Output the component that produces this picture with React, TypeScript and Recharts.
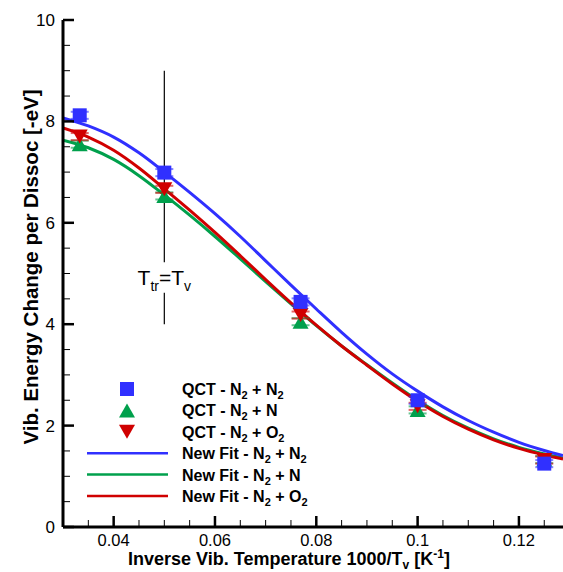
import React from 'react';
import {
  ComposedChart, Scatter, Line, XAxis, YAxis, ErrorBar,
  ReferenceLine, ReferenceDot, Customized
} from 'recharts';

// QCT data points (x = 1000/Tv)
const qctX = [0.0333, 0.05, 0.0769, 0.1, 0.125];
const qctN2N2 = [8.12, 6.99, 4.44, 2.5, 1.25];
const qctN2N = [7.55, 6.53, 4.05, 2.31, 1.33];
const qctN2O2 = [7.7, 6.66, 4.18, 2.38, 1.32];
const qctErr = [0.07, 0.07, 0.07, 0.07, 0.07];

// fit curves
const fitX = [0.03, 0.035, 0.04, 0.045, 0.05, 0.055, 0.06, 0.065, 0.07, 0.075, 0.08, 0.085, 0.09, 0.095, 0.1, 0.105, 0.11, 0.115, 0.12, 0.125, 0.1287];
const fitN2N2 = [8.07, 7.91, 7.69, 7.38, 7.0, 6.6, 6.18, 5.73, 5.25, 4.77, 4.3, 3.84, 3.41, 3.02, 2.68, 2.37, 2.1, 1.87, 1.67, 1.51, 1.41];
const fitN2N = [7.63, 7.48, 7.25, 6.93, 6.55, 6.15, 5.73, 5.29, 4.84, 4.4, 3.97, 3.57, 3.2, 2.84, 2.5, 2.2, 1.95, 1.74, 1.57, 1.44, 1.36];
const fitN2O2 = [7.87, 7.69, 7.43, 7.08, 6.67, 6.25, 5.81, 5.35, 4.88, 4.42, 3.98, 3.57, 3.19, 2.82, 2.48, 2.18, 1.93, 1.72, 1.55, 1.42, 1.34];

const xTicks = [0.03, 0.035, 0.04, 0.045, 0.05, 0.055, 0.06, 0.065, 0.07, 0.075, 0.08, 0.085, 0.09, 0.095, 0.1, 0.105, 0.11, 0.115, 0.12, 0.125];
const yTicks = [0, 0.5, 1, 1.5, 2, 2.5, 3, 3.5, 4, 4.5, 5, 5.5, 6, 6.5, 7, 7.5, 8, 8.5, 9, 9.5, 10];

// T_tr = T_v marker line
const eqX = 0.05;
const eqTop = 9;
const eqGapTop = 5.22;
const eqGapBottom = 4.62;
const eqBottom = 4;

const BLUE = '#3030ff';
const GREEN = '#00a04c';
const RED = '#d00000';
const FONT = 'Arial, "Liberation Sans", Helvetica, sans-serif';

const qctData = (ys: number[]) => qctX.map((x, i) => ({ x, y: ys[i], err: qctErr[i] }));
const fitData = (ys: number[]) => fitX.map((x, i) => ({ x, y: ys[i] }));

const isMajor = (v: number, step: number) => Math.abs(v / step - Math.round(v / step)) < 1e-6;

const XTick = (props: any) => {
  const { x, y, payload } = props;
  const v = payload.value;
  const major = isMajor(v, 0.02);
  return (
    <g>
      <line x1={x} x2={x} y1={y} y2={y - (major ? 11 : 7)} stroke="#000" strokeWidth={major ? 2.5 : 1} />
      {major && (
        <text x={x} y={y + 19} textAnchor="middle" fontSize={16.5} fontFamily={FONT} fill="#000">
          {String(Math.round(v * 100) / 100)}
        </text>
      )}
    </g>
  );
};

const YTick = (props: any) => {
  const { x, y, payload } = props;
  const v = payload.value;
  const major = isMajor(v, 2);
  return (
    <g>
      <line x1={x} x2={x + (major ? 11 : 7)} y1={y} y2={y} stroke="#000" strokeWidth={major ? 2.5 : 1} />
      {major && (
        <text x={x - 8} y={y + 6} textAnchor="end" fontSize={17} fontFamily={FONT} fill="#000">
          {v}
        </text>
      )}
    </g>
  );
};

const Square = (p: any) => <rect x={p.cx - 7} y={p.cy - 7} width={14} height={14} fill={BLUE} />;
const TriUp = (p: any) => (
  <polygon points={`${p.cx},${p.cy - 7} ${p.cx + 8},${p.cy + 7} ${p.cx - 8},${p.cy + 7}`} fill={GREEN} />
);
const TriDown = (p: any) => (
  <polygon points={`${p.cx - 8},${p.cy - 7} ${p.cx + 8},${p.cy - 7} ${p.cx},${p.cy + 7}`} fill={RED} />
);

const EqLabel = (props: any) => {
  const vb = props.viewBox || {};
  const cx = (vb.x || 0) + (vb.width || 0) / 2;
  const cy = (vb.y || 0) + (vb.height || 0) / 2;
  return (
    <text x={cx} y={cy + 7} textAnchor="middle" fontSize={21} fontFamily={FONT} fill="#000">
      T<tspan dy={6} fontSize={14}>tr</tspan><tspan dy={-6}>=T</tspan><tspan dy={6} fontSize={14}>v</tspan>
    </text>
  );
};

const legendRows = [
  { kind: 'square', color: BLUE, label: ['QCT - N', '2', ' + N', '2'] },
  { kind: 'up', color: GREEN, label: ['QCT - N', '2', ' + N', ''] },
  { kind: 'down', color: RED, label: ['QCT - N', '2', ' + O', '2'] },
  { kind: 'line', color: BLUE, label: ['New Fit - N', '2', ' + N', '2'] },
  { kind: 'line', color: GREEN, label: ['New Fit - N', '2', ' + N', ''] },
  { kind: 'line', color: RED, label: ['New Fit - N', '2', ' + O', '2'] },
];

const ChartLegend = () => (
  <g>
    {legendRows.map((r, i) => {
      const cy = 389 + i * 21.4;
      const mx = 127;
      let mark: React.ReactNode = null;
      if (r.kind === 'square') mark = <Square cx={mx} cy={cy} />;
      else if (r.kind === 'up') mark = <TriUp cx={mx} cy={cy} />;
      else if (r.kind === 'down') mark = <TriDown cx={mx} cy={cy} />;
      else mark = <line x1={87} x2={168} y1={cy} y2={cy} stroke={r.color} strokeWidth={2.5} />;
      return (
        <g key={i}>
          {mark}
          <text x={182} y={cy + 6} fontSize={16} fontWeight="bold" fontFamily={FONT} fill="#000">
            {r.label[0]}
            <tspan dy={4} fontSize={11}>{r.label[1]}</tspan>
            <tspan dy={-4}>{r.label[2]}</tspan>
            {r.label[3] && <tspan dy={4} fontSize={11}>{r.label[3]}</tspan>}
          </text>
        </g>
      );
    })}
  </g>
);

const AxisTitles = () => (
  <g fontFamily={FONT} fontWeight="bold" fill="#000">
    <text x={289} y={565} textAnchor="middle" fontSize={18}>
      Inverse Vib. Temperature 1000/T<tspan dy={4} fontSize={12}>v</tspan>
      <tspan dy={-4}> [K</tspan><tspan dy={-7} fontSize={12}>-1</tspan><tspan dy={7}>]</tspan>
    </text>
    <text x={38} y={267} textAnchor="middle" fontSize={20.5} transform="rotate(-90 38 267)">
      Vib. Energy Change per Dissoc [-eV]
    </text>
  </g>
);

export default function App() {
  return (
    <div style={{ position: 'absolute', left: 0, top: 0, width: 563, height: 572, background: '#fff' }}>
      <ComposedChart width={563} height={572} margin={{ top: 20, right: 0, bottom: 0, left: 0 }}>
        <XAxis
          type="number"
          dataKey="x"
          domain={[0.03, 0.1287]}
          ticks={xTicks}
          allowDataOverflow
          height={45}
          tickSize={0}
          tickMargin={0}
          tickLine={false}
          axisLine={{ stroke: '#000', strokeWidth: 3 }}
          tick={<XTick />}
          interval={0}
        />
        <YAxis
          type="number"
          dataKey="y"
          domain={[0, 10]}
          ticks={yTicks}
          width={63}
          tickSize={0}
          tickMargin={0}
          tickLine={false}
          axisLine={{ stroke: '#000', strokeWidth: 3 }}
          tick={<YTick />}
          interval={0}
        />
        <ReferenceLine segment={[{ x: eqX, y: eqTop }, { x: eqX, y: eqGapTop }]} stroke="#000" strokeWidth={1.2} />
        <ReferenceLine segment={[{ x: eqX, y: eqGapBottom }, { x: eqX, y: eqBottom }]} stroke="#000" strokeWidth={1.2} />
        <ReferenceDot x={eqX} y={(eqGapTop + eqGapBottom) / 2} r={0} fill="none" stroke="none" label={<EqLabel />} />
        <Line data={fitData(fitN2N)} dataKey="y" type="monotone" stroke={GREEN} strokeWidth={3} dot={false} isAnimationActive={false} />
        <Line data={fitData(fitN2N2)} dataKey="y" type="monotone" stroke={BLUE} strokeWidth={3} dot={false} isAnimationActive={false} />
        <Line data={fitData(fitN2O2)} dataKey="y" type="monotone" stroke={RED} strokeWidth={3} dot={false} isAnimationActive={false} />
        <Scatter data={qctData(qctN2N)} dataKey="y" shape={<TriUp />} isAnimationActive={false}>
          <ErrorBar dataKey="err" direction="y" width={9} stroke={GREEN} strokeOpacity={0.6} strokeWidth={2} />
        </Scatter>
        <Scatter data={qctData(qctN2O2)} dataKey="y" shape={<TriDown />} isAnimationActive={false}>
          <ErrorBar dataKey="err" direction="y" width={9} stroke={RED} strokeOpacity={0.6} strokeWidth={2} />
        </Scatter>
        <Scatter data={qctData(qctN2N2)} dataKey="y" shape={<Square />} isAnimationActive={false}>
          <ErrorBar dataKey="err" direction="y" width={9} stroke={BLUE} strokeOpacity={0.6} strokeWidth={2} />
        </Scatter>
        <Customized component={<ChartLegend />} />
        <Customized component={<AxisTitles />} />
      </ComposedChart>
    </div>
  );
}
